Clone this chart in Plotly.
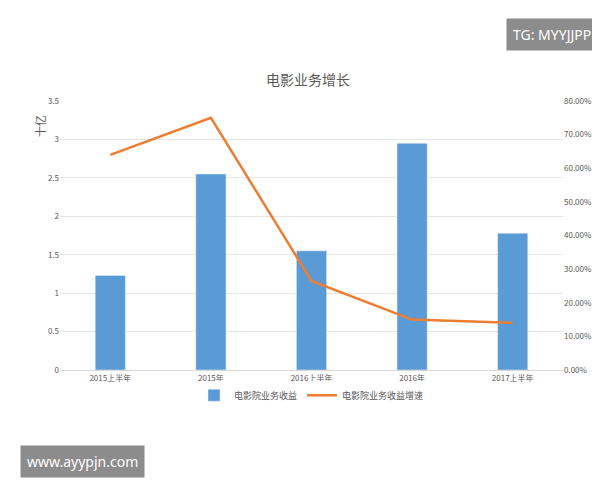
import plotly.graph_objects as go

categories = ["2015上半年", "2015年", "2016上半年", "2016年", "2017上半年"]
revenue = [1.23, 2.55, 1.55, 2.95, 1.78]
growth = [0.64, 0.75, 0.265, 0.15, 0.14]
y2_ticks = [i / 10 for i in range(9)]
y2_text = [f"{v*100:.2f}%" for v in y2_ticks]

font = "Noto Sans CJK SC"
fig = go.Figure()
fig.add_bar(x=categories, y=revenue, name="电影院业务收益", marker_color="#5b9bd5", width=0.3)
fig.add_scatter(x=categories, y=growth, name="电影院业务收益增速", yaxis="y2",
                mode="lines", line=dict(color="#ed7d31", width=2.5))
fig.update_layout(
    width=600, height=480, paper_bgcolor="white", plot_bgcolor="white",
    margin=dict(l=52, r=45, t=93, b=118),
    font=dict(family=font, size=8, color="#595959"),
    title=dict(text="电影业务增长", x=0.5, xanchor="center", y=0.85, yanchor="middle",
               font=dict(size=14, color="#595959", family=font)),
    xaxis=dict(showline=True, linecolor="#d9d9d9", tickfont=dict(size=8)),
    yaxis=dict(range=[0, 3.5], dtick=0.5, gridcolor="#e6e6e6", zeroline=False,
               tickformat="~g", tickfont=dict(size=8)),
    yaxis2=dict(range=[0, 0.8], overlaying="y", side="right", tickvals=y2_ticks,
                ticktext=y2_text, showgrid=False, zeroline=False, tickfont=dict(size=8)),
    legend=dict(orientation="h", x=0.5, xanchor="center", y=-0.04, yanchor="top",
                font=dict(size=9)),
    annotations=[
        dict(text="十亿", textangle=-90, x=-0.06, y=0.955, xref="paper", yref="paper",
             showarrow=False, font=dict(size=11, color="#595959")),
        dict(text="TG: MYYJJPP", x=1.07, y=1.309, xref="paper", yref="paper", showarrow=False,
             xanchor="right", yanchor="top", bgcolor="#8c8c8c", borderpad=6,
             font=dict(size=14, color="white", family="Noto Sans")),
        dict(text="www.ayypjn.com", x=-0.08, y=-0.40, xref="paper", yref="paper", showarrow=False,
             xanchor="left", yanchor="bottom", bgcolor="#8c8c8c", borderpad=6,
             font=dict(size=14, color="white", family="Noto Sans")),
    ],
)
fig.write_html("out.html")
